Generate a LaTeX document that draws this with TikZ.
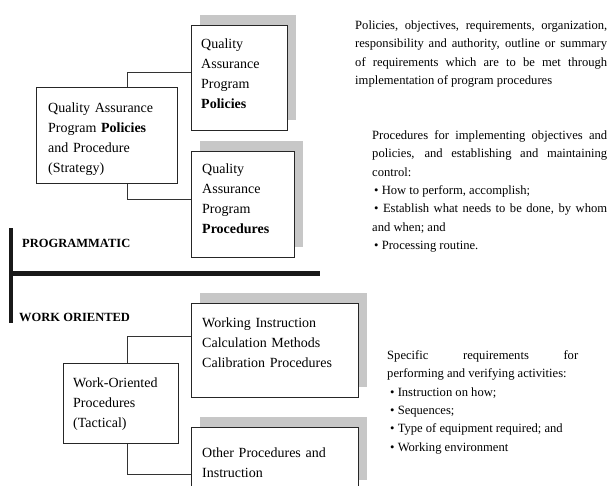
\documentclass[tikz,border=0pt]{standalone}
\usepackage{fontspec}
\setmainfont{Liberation Serif}
\usetikzlibrary{shadows}
\begin{document}
\begin{tikzpicture}[x=1pt,y=-1pt,
  box/.style={draw=black!85, line width=0.8pt, fill=white, anchor=north west, inner sep=0pt},
  shadowed/.style={drop shadow={shadow xshift=9pt, shadow yshift=10pt, fill=black!22, opacity=1}},
  link/.style={draw=black!80, line width=0.7pt},
  boxtext/.style={anchor=base west, inner sep=0pt, text width=#1, align=left,
    font=\fontsize{14}{20}\selectfont},
  note/.style={anchor=base west, inner sep=0pt, text width=#1, align=justify,
    font=\fontsize{12.6}{18.3}\selectfont},
  heading/.style={anchor=base west, inner sep=0pt, font=\fontsize{12.5}{14}\selectfont\bfseries},
  divider/.style={draw=black!90, line width=#1}
]
\useasboundingbox (0,0) rectangle (607,485);

% strategic level
\node[box, minimum width=141pt, minimum height=96pt] (strat) at (36,87) {};
\node[box, shadowed, minimum width=96pt, minimum height=105pt] (pol) at (191,25) {};
\node[box, shadowed, minimum width=103pt, minimum height=106pt] (proc) at (191,151) {};

\node[boxtext=125pt] (stratT) at (48,112)
  {Quality Assurance\\Program \textbf{Policies}\\and Procedure\\(Strategy)};
\node[boxtext=85pt] (polT) at (201,48)
  {Quality\\Assurance\\Program\\\textbf{Policies}};
\node[boxtext=90pt] (procT) at (202,173)
  {Quality\\Assurance\\Program\\\textbf{Procedures}};

\draw[link] ([xshift=20.5pt]strat.north) |- ([yshift=5.5pt]pol.west);
\draw[link] ([xshift=20.5pt]strat.south) |- ([yshift=5pt]proc.west);

% tactical level
\node[box, minimum width=115pt, minimum height=80pt] (tact) at (63,363) {};
\node[box, shadowed, minimum width=167pt, minimum height=94pt] (work) at (191,303) {};
\node[box, shadowed, minimum width=167pt, minimum height=63pt] (other) at (191,427) {};

\node[boxtext=110pt] (tactT) at (73,387)
  {Work-Oriented\\Procedures\\(Tactical)};
\node[boxtext=150pt] (workT) at (202,327)
  {Working Instruction\\Calculation Methods\\Calibration Procedures};
\node[boxtext=150pt] (otherT) at (202,457)
  {Other Procedures and\\Instruction};

\draw[link] ([xshift=6.5pt]tact.north) |- ([yshift=14pt]work.west);
\draw[link] ([xshift=6.5pt]tact.south) |- ([yshift=-15.5pt]other.west);

% level divider
\coordinate (vtop) at (11,228);
\coordinate (vbot) at (11,323);
\coordinate (hleft) at (9,273);
\coordinate (hright) at (320,273);
\draw[divider=4.2pt] (vtop) -- (vbot);
\draw[divider=5pt] (hleft) -- (hright);
\node[heading] (progH) at (22,247.5) {PROGRAMMATIC};
\node[heading] (workH) at (19,321) {WORK ORIENTED};

% descriptions
\node[note=252pt] (n1) at (355,29.5)
  {Policies, objectives, requirements, organization,\linebreak
   responsibility and authority, outline or summary\linebreak
   of requirements which are to be met through\linebreak
   implementation of program procedures};
\node[note=235pt] (n2) at (372,139.5)
  {Procedures for implementing objectives and\linebreak
   policies, and establishing and maintaining\linebreak
   control:\par
   \hspace*{2pt}• How to perform, accomplish;\par
   \hspace*{2pt}• Establish what needs to be done, by whom\linebreak
   and when; and\par
   \hspace*{2pt}• Processing routine.};
\node[note=191pt] (n3) at (387,359.5)
  {Specific requirements for\linebreak
   \mbox{performing and verifying activities:}\par
   \hspace*{3pt}• Instruction on how;\par
   \hspace*{3pt}• Sequences;\par
   \hspace*{3pt}• Type of equipment required; and\par
   \hspace*{3pt}• Working environment};
\end{tikzpicture}
\end{document}
